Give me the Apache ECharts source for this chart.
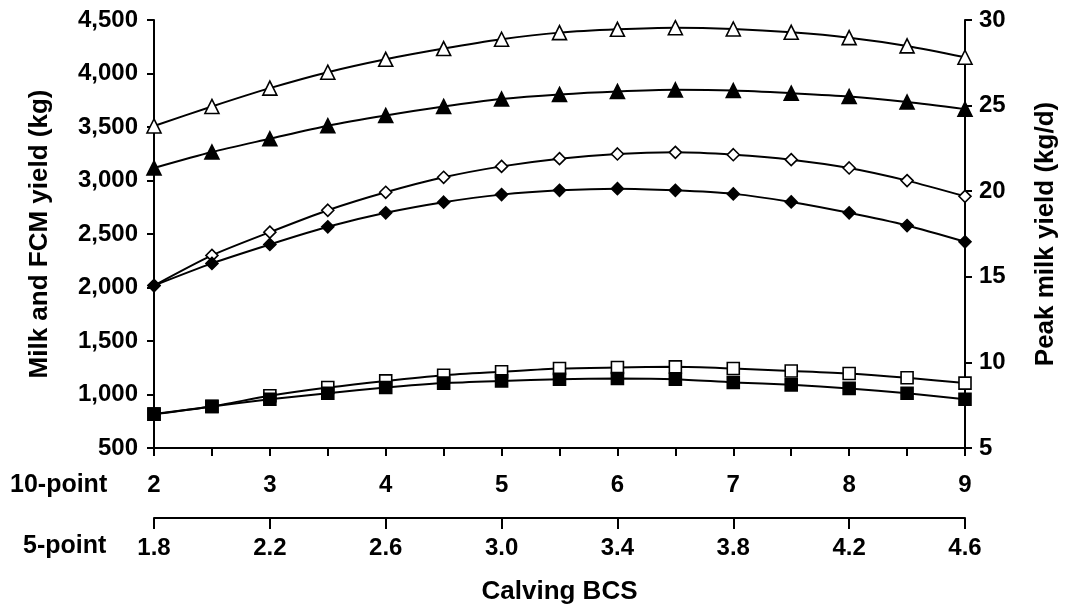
<!DOCTYPE html>
<html>
<head>
<meta charset="utf-8">
<script src="https://cdn.jsdelivr.net/npm/echarts@6/dist/echarts.min.js"></script>
<style>
html,body{margin:0;padding:0;background:#fff;}
#chart{width:1067px;height:610px;}
</style>
</head>
<body>
<div id="chart"></div>
<script>
// 10-point calving BCS positions
var bcs10 = [2, 2.5, 3, 3.5, 4, 4.5, 5, 5.5, 6, 6.5, 7, 7.5, 8, 8.5, 9];
// 5-point scale tick labels (aligned to 10-point integers 2..9)
var fivePointLabels = ['1.8', '2.2', '2.6', '3.0', '3.4', '3.8', '4.2', '4.6'];
// Left axis (kg)
var openTriangle = [3510, 3692, 3863, 4012, 4133, 4233, 4320, 4382, 4413, 4428, 4416, 4385, 4335, 4258, 4152];
var filledTriangle = [3117, 3266, 3390, 3512, 3608, 3692, 3761, 3804, 3832, 3847, 3841, 3816, 3785, 3733, 3667];
var openDiamond = [2018, 2300, 2517, 2722, 2890, 3030, 3132, 3204, 3248, 3263, 3241, 3195, 3117, 2999, 2852];
var filledDiamond = [2018, 2225, 2402, 2567, 2698, 2797, 2868, 2908, 2924, 2908, 2875, 2800, 2698, 2579, 2427];
// Right axis (kg/d)
var openSquare = [6.98, 7.43, 8.05, 8.53, 8.92, 9.25, 9.45, 9.64, 9.70, 9.74, 9.64, 9.50, 9.35, 9.10, 8.79];
var filledSquare = [6.98, 7.42, 7.85, 8.20, 8.53, 8.79, 8.92, 9.02, 9.06, 9.02, 8.83, 8.69, 8.48, 8.20, 7.85];

function pairs(arr) { return bcs10.map(function (x, i) { return [x, arr[i]]; }); }

var FONT = '"Liberation Sans", Arial, sans-serif';
function mkSeries(name, data, symbol, size, filled, yIdx) {
  return {
    name: name, type: 'line', yAxisIndex: yIdx, data: pairs(data),
    smooth: 0.25, symbol: symbol, symbolSize: size, showSymbol: true,
    lineStyle: { color: '#000', width: 2 },
    itemStyle: { color: filled ? '#000' : '#fff', borderColor: '#000', borderWidth: 1.6 },
    emphasis: { disabled: true }, animation: false
  };
}
var txt = { color: '#000', fontSize: 24, fontWeight: 'bold', fontFamily: FONT };
var ttl = { color: '#000', fontSize: 26, fontWeight: 'bold', fontFamily: FONT };

var chart = echarts.init(document.getElementById('chart'));
chart.setOption({
  animation: false,
  backgroundColor: '#fff',
  grid: { left: 154, right: 101, top: 20, bottom: 161 },
  xAxis: [{
    type: 'value', min: 2, max: 9, interval: 0.5, position: 'bottom',
    axisLine: { show: true, onZero: false, lineStyle: { color: '#000', width: 2 } },
    axisTick: { show: true, length: 8, lineStyle: { color: '#000', width: 2 } },
    splitLine: { show: false },
    axisLabel: Object.assign({ margin: 25,
      formatter: function (v) { return Number.isInteger(v) ? String(v) : ''; } }, txt)
  }, {
    type: 'value', min: 2, max: 9, interval: 1, position: 'bottom', offset: 70,
    axisLine: { show: true, onZero: false, lineStyle: { color: '#000', width: 2 } },
    axisTick: { show: true, length: 11, lineStyle: { color: '#000', width: 2 } },
    splitLine: { show: false },
    axisLabel: Object.assign({ margin: 18,
      formatter: function (v) { return fivePointLabels[Math.round(v - 2)]; } }, txt),
    name: 'Calving BCS', nameLocation: 'middle', nameGap: 61,
    nameTextStyle: ttl
  }],
  yAxis: [{
    type: 'value', min: 500, max: 4500, interval: 500, position: 'left',
    axisLine: { show: true, lineStyle: { color: '#000', width: 2 } },
    axisTick: { show: true, length: 7, lineStyle: { color: '#000', width: 2 } },
    splitLine: { show: false },
    axisLabel: Object.assign({ margin: 16,
      formatter: function (v) { return v.toLocaleString('en-US'); } }, txt),
    name: 'Milk and FCM yield (kg)', nameLocation: 'middle', nameGap: 101, nameRotate: 90,
    nameTextStyle: ttl
  }, {
    type: 'value', min: 5, max: 30, interval: 5, position: 'right',
    axisLine: { show: true, lineStyle: { color: '#000', width: 2 } },
    axisTick: { show: true, length: 7, lineStyle: { color: '#000', width: 2 } },
    splitLine: { show: false },
    axisLabel: Object.assign({ margin: 14 }, txt),
    name: 'Peak milk yield (kg/d)', nameLocation: 'middle', nameGap: 68, nameRotate: 90,
    nameTextStyle: ttl
  }],
  graphic: [
    { type: 'text', left: 10, top: 473, style: { text: '10-point', fill: '#000', font: 'bold 25px "Liberation Sans"' } },
    { type: 'text', left: 23, top: 534, style: { text: '5-point', fill: '#000', font: 'bold 25px "Liberation Sans"' } }
  ],
  series: [
    mkSeries('open triangle', openTriangle, 'triangle', 14, false, 0),
    mkSeries('filled triangle', filledTriangle, 'triangle', 14, true, 0),
    mkSeries('open diamond', openDiamond, 'diamond', 12, false, 0),
    mkSeries('filled diamond', filledDiamond, 'diamond', 12, true, 0),
    mkSeries('open square', openSquare, 'rect', 12, false, 1),
    mkSeries('filled square', filledSquare, 'rect', 12, true, 1)
  ]
});
</script>
</body>
</html>
